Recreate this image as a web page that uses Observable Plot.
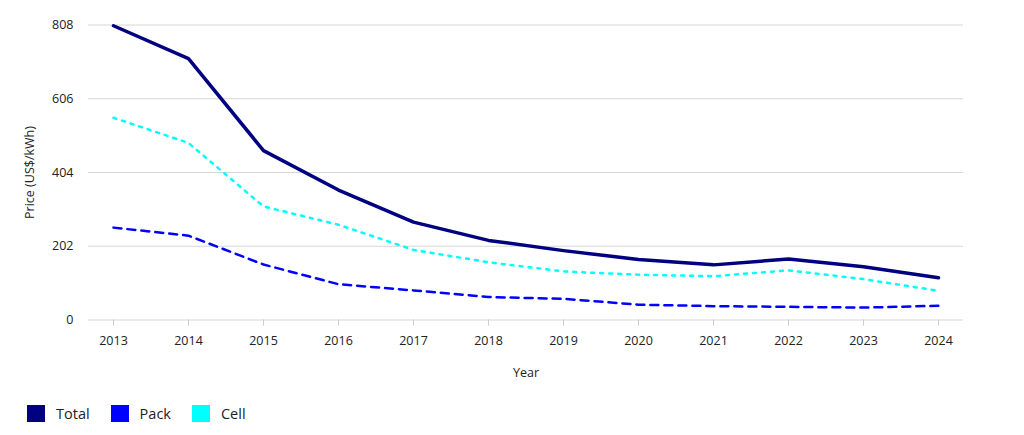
<!DOCTYPE html>
<html>
<head>
<meta charset="utf-8">
<script src="https://cdn.jsdelivr.net/npm/d3@7"></script>
<script src="https://cdn.jsdelivr.net/npm/@observablehq/plot@0.6"></script>
<style>
  html, body { margin: 0; padding: 0; background: #fff; }
  body { width: 1024px; height: 435px; overflow: hidden; font-family: "Open Sans", "Noto Sans", sans-serif; }
  #legend { display: flex; align-items: center; margin-top: 15px; padding-left: 27px; height: 17px; }
  .item { display: flex; align-items: center; margin-right: 21px; }
  .sw { width: 18px; height: 17px; margin-right: 11px; }
  .lab { font-size: 14.5px; color: #222; }
</style>
</head>
<body>
<div id="chart"></div>
<div id="legend"></div>
<script>
const years = ["2013","2014","2015","2016","2017","2018","2019","2020","2021","2022","2023","2024"];
const total = [806, 716, 464, 356, 268, 218, 190, 166, 151, 167, 146, 116];
const pack  = [253, 231, 152, 98, 81, 63, 58, 42, 38, 36, 34, 39];
const cell  = [554, 485, 311, 261, 192, 158, 133, 124, 120, 136, 112, 80];
const yTicks = [0, 202, 404, 606, 808];
const seriesNames = ["Total", "Pack", "Cell"];
const seriesColors = ["#000080", "#0000FF", "#00FFFF"];

const toRows = (vals) => years.map((y, i) => ({year: y, value: vals[i]}));

const plot = Plot.plot({
  width: 1024,
  height: 390,
  marginLeft: 88,
  marginRight: 61,
  marginTop: 24.5,
  marginBottom: 70.5,
  style: {fontFamily: "'Open Sans', 'Noto Sans', sans-serif", fontSize: "12.5px", color: "#222", background: "#fff"},
  x: {type: "point", domain: years, padding: 0.305},
  y: {domain: [0, 808]},
  marks: [
    Plot.gridY(yTicks, {stroke: "#d6d6d6", strokeOpacity: 1}),
    Plot.axisY(yTicks, {tickSize: 0, tickPadding: 15, label: "Price (US$/kWh)", labelAnchor: "center", labelArrow: "none", labelOffset: 63, fontSize: 12.5}),
    Plot.axisX({tickSize: 6, tickPadding: 10, stroke: "#ccc", label: "Year", labelAnchor: "center", labelArrow: "none", labelOffset: 57, fontSize: 12.5}),
    Plot.line(toRows(cell), {x: "year", y: "value", stroke: seriesColors[2], strokeWidth: 2.5, strokeDasharray: "3,6"}),
    Plot.line(toRows(pack), {x: "year", y: "value", stroke: seriesColors[1], strokeWidth: 2.5, strokeDasharray: "8,6"}),
    Plot.line(toRows(total), {x: "year", y: "value", stroke: seriesColors[0], strokeWidth: 3.5})
  ]
});
document.getElementById("chart").appendChild(plot);

const legend = document.getElementById("legend");
seriesNames.forEach((n, i) => {
  const it = document.createElement("div");
  it.className = "item";
  it.innerHTML = `<div class="sw" style="background:${seriesColors[i]}"></div><span class="lab">${n}</span>`;
  legend.appendChild(it);
});
</script>
</body>
</html>
